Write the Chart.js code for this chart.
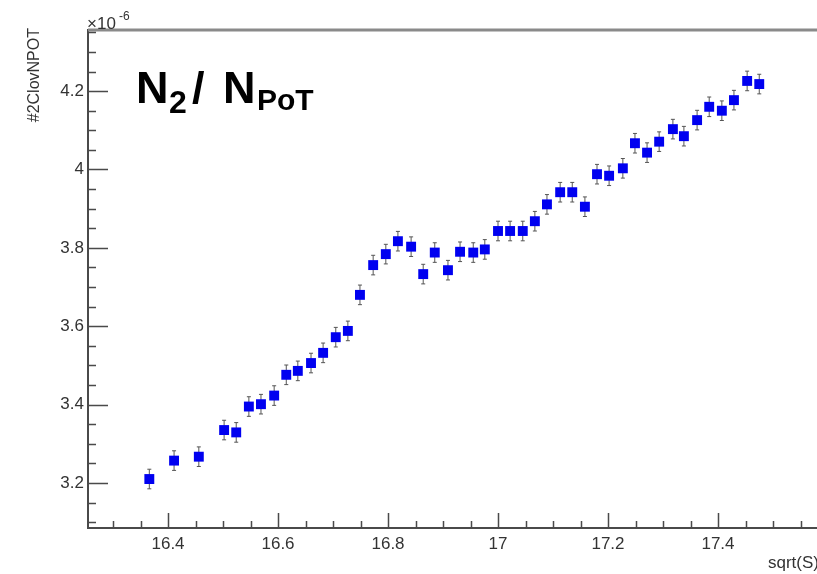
<!DOCTYPE html>
<html>
<head>
<meta charset="utf-8">
<script src="https://cdn.jsdelivr.net/npm/chart.js@4/dist/chart.umd.min.js"></script>
<style>
  html, body { margin: 0; padding: 0; background: #fff; }
  #wrap { width: 817px; height: 574px; position: relative; }
</style>
</head>
<body>
<div id="wrap"><canvas id="chart"></canvas></div>
<script>
// sqrt(S) of each run and the measured #2ClovNPOT ratio (in units of 1e-6)
const sqrtS = [16.366, 16.411, 16.456, 16.502, 16.524, 16.547, 16.569, 16.593, 16.615, 16.636,
  16.660, 16.682, 16.705, 16.727, 16.749, 16.773, 16.796, 16.818, 16.842, 16.864,
  16.885, 16.909, 16.931, 16.955, 16.976, 17.000, 17.022, 17.045, 17.067, 17.089,
  17.113, 17.135, 17.158, 17.180, 17.202, 17.227, 17.249, 17.271, 17.293, 17.318,
  17.338, 17.362, 17.384, 17.407, 17.429, 17.453, 17.475];
const ratio = [3.210, 3.257, 3.267, 3.335, 3.329, 3.395, 3.401, 3.423, 3.476, 3.486,
  3.506, 3.532, 3.572, 3.588, 3.680, 3.756, 3.784, 3.817, 3.803, 3.733,
  3.788, 3.743, 3.790, 3.788, 3.796, 3.843, 3.843, 3.843, 3.868, 3.911,
  3.942, 3.942, 3.905, 3.988, 3.984, 4.003, 4.067, 4.043, 4.071, 4.103,
  4.085, 4.126, 4.160, 4.150, 4.177, 4.226, 4.218];
const ratioErr = [0.025, 0.025, 0.025, 0.025, 0.025, 0.025, 0.025, 0.025, 0.025, 0.025,
  0.025, 0.025, 0.025, 0.025, 0.025, 0.025, 0.025, 0.025, 0.025, 0.025,
  0.025, 0.025, 0.025, 0.025, 0.025, 0.025, 0.025, 0.025, 0.025, 0.025,
  0.025, 0.025, 0.025, 0.025, 0.025, 0.025, 0.025, 0.025, 0.025, 0.025,
  0.025, 0.025, 0.025, 0.025, 0.025, 0.025, 0.025];
const xTicks = [16.4, 16.6, 16.8, 17, 17.2, 17.4];
const yTicks = [3.2, 3.4, 3.6, 3.8, 4, 4.2];

const FONT = '"Liberation Sans", Arial, Helvetica, sans-serif';

// ROOT-style error bars, drawn under the markers
const errorBars = {
  id: 'errorBars',
  beforeDatasetsDraw(chart) {
    const { ctx, scales: { x, y } } = chart;
    ctx.save();
    ctx.strokeStyle = '#555';
    ctx.lineWidth = 1;
    sqrtS.forEach((v, i) => {
      const px = x.getPixelForValue(v);
      const top = y.getPixelForValue(ratio[i] + ratioErr[i]);
      const bot = y.getPixelForValue(ratio[i] - ratioErr[i]);
      ctx.beginPath();
      ctx.moveTo(px, top);
      ctx.lineTo(px, bot);
      ctx.moveTo(px - 2, top);
      ctx.lineTo(px + 2, top);
      ctx.moveTo(px - 2, bot);
      ctx.lineTo(px + 2, bot);
      ctx.stroke();
    });
    ctx.restore();
  },
};

// inward ticks, frame line on top, titles and the big label
const rootFrame = {
  id: 'rootFrame',
  afterDraw(chart) {
    const { ctx, chartArea: a, scales: { x, y } } = chart;
    ctx.save();

    ctx.strokeStyle = '#8a8a8a';
    ctx.lineWidth = 3;
    ctx.beginPath();
    ctx.moveTo(a.left, a.top);
    ctx.lineTo(chart.width, a.top);
    ctx.stroke();

    ctx.strokeStyle = '#4a4a4a';
    ctx.lineWidth = 1.5;
    ctx.beginPath();
    for (let v = 3.1; v < y.max; v += 0.05) {
      const py = Math.round(y.getPixelForValue(v)) + 0.5;
      const major = yTicks.some((t) => Math.abs(t - v) < 1e-6);
      ctx.moveTo(a.left, py);
      ctx.lineTo(a.left + (major ? 20 : 8), py);
    }
    for (let v = 16.3; v < x.max; v += 0.05) {
      const px = Math.round(x.getPixelForValue(v)) + 0.5;
      const major = xTicks.some((t) => Math.abs(t - v) < 1e-6);
      ctx.moveTo(px, a.bottom);
      ctx.lineTo(px, a.bottom - (major ? 15 : 7));
    }
    ctx.stroke();

    ctx.fillStyle = '#333';
    ctx.textBaseline = 'alphabetic';
    ctx.textAlign = 'left';
    ctx.font = `17px ${FONT}`;
    ctx.fillText('\u00d710', 87, 29);
    ctx.font = `12px ${FONT}`;
    ctx.fillText('-6', 119, 20);

    ctx.font = `17px ${FONT}`;
    ctx.textAlign = 'right';
    ctx.fillText('sqrt(S)', 819, 568);

    ctx.save();
    ctx.translate(39, 28);
    ctx.rotate(-Math.PI / 2);
    ctx.font = `16px ${FONT}`;
    ctx.textAlign = 'right';
    ctx.fillText('#2ClovNPOT', 0, 0);
    ctx.restore();

    ctx.fillStyle = '#000';
    ctx.textAlign = 'left';
    ctx.font = `bold 45px ${FONT}`;
    ctx.fillText('N', 136, 103);
    ctx.font = `bold 32px ${FONT}`;
    ctx.fillText('2', 169, 113);
    ctx.font = `bold 45px ${FONT}`;
    ctx.fillText('/', 192, 103);
    ctx.fillText('N', 223, 103);
    ctx.font = `bold 30px ${FONT}`;
    ctx.fillText('PoT', 257, 110);

    ctx.restore();
  },
};

new Chart(document.getElementById('chart'), {
  type: 'scatter',
  data: {
    datasets: [{
      data: sqrtS.map((v, i) => ({ x: v, y: ratio[i] })),
      pointStyle: 'rect',
      pointRadius: 7,
      pointHoverRadius: 7,
      backgroundColor: '#0000f0',
      borderColor: '#0000f0',
      borderWidth: 0,
    }],
  },
  options: {
    responsive: true,
    maintainAspectRatio: false,
    animation: false,
    events: [],
    layout: {
      autoPadding: false,
      padding: { top: 30, right: 0, left: 0, bottom: 0 },
    },
    plugins: {
      legend: { display: false },
      tooltip: { enabled: false },
    },
    scales: {
      x: {
        type: 'linear',
        min: 16.2545,
        max: 17.58,
        afterFit(scale) {
          scale.height = 46;
          scale.paddingLeft = 0;
          scale.paddingRight = 0;
        },
        afterBuildTicks(scale) { scale.ticks = xTicks.map((v) => ({ value: v })); },
        grid: { display: false, drawTicks: false },
        border: { display: true, color: '#4a4a4a', width: 2 },
        ticks: {
          padding: 6,
          color: '#333',
          font: { family: FONT, size: 17 },
          maxRotation: 0,
          callback: (v) => String(Math.round(v * 10) / 10),
        },
      },
      y: {
        type: 'linear',
        min: 3.085,
        max: 4.356,
        afterFit(scale) {
          scale.width = 88;
          scale.paddingTop = 0;
          scale.paddingBottom = 0;
        },
        afterBuildTicks(scale) { scale.ticks = yTicks.map((v) => ({ value: v })); },
        grid: { display: false, drawTicks: false },
        border: { display: true, color: '#4a4a4a', width: 2 },
        ticks: {
          padding: 4,
          color: '#333',
          font: { family: FONT, size: 17 },
          callback: (v) => String(Math.round(v * 10) / 10),
        },
      },
    },
  },
  plugins: [errorBars, rootFrame],
});
</script>
</body>
</html>
